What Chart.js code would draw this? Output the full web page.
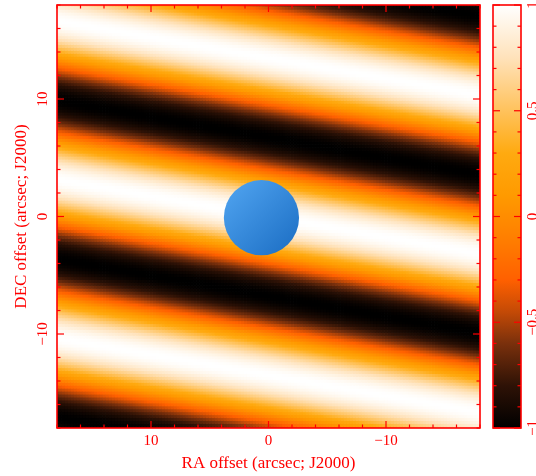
<!DOCTYPE html>
<html>
<head>
<meta charset="utf-8">
<script src="https://cdn.jsdelivr.net/npm/chart.js@4.4.1/dist/chart.umd.min.js"></script>
<style>
  html, body { margin: 0; padding: 0; background: #ffffff; }
  #wrap { position: relative; width: 536px; height: 476px; }
  #fringe-chart { position: absolute; left: 0; top: 0; }
  #cbar-chart { position: absolute; left: 480px; top: 0; }
</style>
</head>
<body>
<div id="wrap">
  <canvas id="fringe-chart" width="536" height="476"></canvas>
  <canvas id="cbar-chart" width="56" height="476"></canvas>
</div>
<script>
// axis ranges and tick labels (arcsec)
const raRange = [-18, 18];
const decRange = [-18, 18];
const raTicks = [10, 0, -10];
const decTicks = [10, 0, -10];
const cbarTicks = [1, 0.5, 0, -0.5, -1];

// fringe: white crest through the centre,
// crests drop ~0.175" in dec per arcsec towards negative RA, repeat every ~13.5" in dec
const fringePeriod = [13.5];
const fringeSlope = [0.175];
const cellStep = [0.25];

// blue disc (source marker)
const sourceRa = [0.6];
const sourceDec = [-0.1];
const sourceRadius = [3.2];

// colour table, value -> rgb
const cmapValues = [-1, -0.8, -0.6, -0.45, -0.3, -0.1, 0.1, 0.3, 0.5, 0.75, 1];
const cmapColors = [
  [0, 0, 0], [46, 18, 6], [122, 48, 12], [196, 74, 6], [255, 96, 0], [255, 127, 0],
  [255, 154, 0], [255, 170, 16], [255, 194, 92], [255, 226, 186], [255, 255, 255],
];

const RED = "#ff0000";
const FONT = "'Liberation Serif', 'DejaVu Serif', serif";

function cmap(v) {
  const t = Math.max(-1, Math.min(1, v));
  for (let i = 1; i < cmapValues.length; i++) {
    if (t <= cmapValues[i]) {
      const f = (t - cmapValues[i - 1]) / (cmapValues[i] - cmapValues[i - 1]);
      const a = cmapColors[i - 1];
      const b = cmapColors[i];
      const c = a.map((ch, k) => Math.round(ch + (b[k] - ch) * f));
      return `rgb(${c[0]},${c[1]},${c[2]})`;
    }
  }
  return "rgb(255,255,255)";
}

function minusLabel(value) {
  return value < 0 ? "\u2212" + Math.abs(value) : String(value);
}

// cells of the fringe image
const cells = [];
const cellColors = [];
const nCells = Math.round((raRange[1] - raRange[0]) / cellStep[0]);
for (let i = 0; i <= nCells; i++) {
  for (let j = 0; j <= nCells; j++) {
    const ra = raRange[0] + i * cellStep[0];
    const dec = decRange[0] + j * cellStep[0];
    const phase = (dec - fringeSlope[0] * ra) / fringePeriod[0];
    cells.push({ x: ra, y: dec });
    cellColors.push(cmap(Math.cos(2 * Math.PI * phase)));
  }
}

function drawTicks(ctx, scale, values, area, side, len) {
  values.forEach((v) => {
    const p = scale.getPixelForValue(v.value);
    const l = v.major ? len * 2 : len;
    ctx.beginPath();
    if (side === "bottom") { ctx.moveTo(p, area.bottom); ctx.lineTo(p, area.bottom - l); }
    if (side === "top") { ctx.moveTo(p, area.top); ctx.lineTo(p, area.top + l); }
    if (side === "left") { ctx.moveTo(area.left, p); ctx.lineTo(area.left + l, p); }
    if (side === "right") { ctx.moveTo(area.right, p); ctx.lineTo(area.right - l, p); }
    ctx.stroke();
  });
}

function tickList(from, to, step, majorEvery) {
  const list = [];
  const n = Math.round((to - from) / step);
  for (let i = 0; i <= n; i++) {
    const value = Math.round((from + i * step) * 1000) / 1000;
    const ratio = value / majorEvery;
    list.push({ value, major: Math.abs(ratio - Math.round(ratio)) < 1e-6 });
  }
  return list;
}

function noPad(scale) {
  scale.paddingTop = 0;
  scale.paddingBottom = 0;
  scale.paddingLeft = 0;
  scale.paddingRight = 0;
}

const framePlugin = {
  id: "frame",
  afterDatasetsDraw(chart) {
    const { ctx, chartArea: area, scales } = chart;
    ctx.save();
    ctx.strokeStyle = RED;
    ctx.lineWidth = 1.2;
    const raMinor = tickList(-18, 18, 2, 10);
    const decMinor = tickList(-18, 18, 2, 10);
    drawTicks(ctx, scales.x, raMinor, area, "bottom", 3.5);
    drawTicks(ctx, scales.x, raMinor, area, "top", 3.5);
    drawTicks(ctx, scales.y, decMinor, area, "left", 3.5);
    drawTicks(ctx, scales.y, decMinor, area, "right", 3.5);
    ctx.lineWidth = 1.6;
    ctx.strokeRect(area.left, area.top, area.right - area.left, area.bottom - area.top);
    ctx.restore();
  },
};

const cbarPlugin = {
  id: "cbar",
  beforeDatasetsDraw(chart) {
    const { ctx, chartArea: area, scales } = chart;
    const y0 = scales.y.getPixelForValue(-1);
    const y1 = scales.y.getPixelForValue(1);
    const grad = ctx.createLinearGradient(0, y0, 0, y1);
    cmapValues.forEach((v) => grad.addColorStop((v + 1) / 2, cmap(v)));
    ctx.save();
    ctx.fillStyle = grad;
    ctx.fillRect(area.left, y1, area.right - area.left, y0 - y1);
    ctx.restore();
  },
  afterDatasetsDraw(chart) {
    const { ctx, chartArea: area, scales } = chart;
    ctx.save();
    ctx.strokeStyle = RED;
    ctx.lineWidth = 1.2;
    const minor = tickList(-1, 1, 0.1, 0.5);
    drawTicks(ctx, scales.y, minor, area, "left", 3.5);
    drawTicks(ctx, scales.y, minor, area, "right", 3.5);
    ctx.lineWidth = 1.6;
    ctx.strokeRect(area.left, area.top, area.right - area.left, area.bottom - area.top);
    ctx.restore();
  },
};

function sourceRadiusPx(context) {
  const s = context.chart.scales.y;
  if (!s) return 38;
  return Math.abs(s.getPixelForValue(0) - s.getPixelForValue(sourceRadius[0]));
}

function sourceFill(context) {
  const chart = context.chart;
  if (!chart.chartArea) return "#3585dc";
  const x = chart.scales.x.getPixelForValue(sourceRa[0]);
  const y = chart.scales.y.getPixelForValue(sourceDec[0]);
  const r = sourceRadiusPx(context);
  const grad = chart.ctx.createLinearGradient(x - r, y - r, x + r, y + r);
  grad.addColorStop(0, "#52a6f2");
  grad.addColorStop(1, "#1a6cc2");
  return grad;
}

new Chart(document.querySelector("#fringe-chart"), {
  type: "scatter",
  data: {
    datasets: [
      {
        label: "source",
        data: sourceRa.map((ra, i) => ({ x: ra, y: sourceDec[i] })),
        pointStyle: "circle",
        pointRadius: sourceRadiusPx,
        pointBackgroundColor: sourceFill,
        pointBorderWidth: 0,
        order: 0,
      },
      {
        label: "fringe",
        data: cells,
        pointStyle: "rect",
        pointRadius: 2.6,
        pointBackgroundColor: cellColors,
        pointBorderWidth: 0,
        order: 1,
      },
    ],
  },
  options: {
    responsive: false,
    animation: false,
    events: [],
    layout: { padding: { left: 0, top: 5, right: 56, bottom: 0 } },
    plugins: { legend: { display: false }, tooltip: { enabled: false } },
    scales: {
      x: {
        type: "linear",
        reverse: true,
        min: raRange[0],
        max: raRange[1],
        grid: { display: false, drawTicks: false },
        border: { display: false },
        afterBuildTicks: (scale) => { scale.ticks = raTicks.map((value) => ({ value })); },
        afterFit: (scale) => { scale.height = 48; noPad(scale); },
        ticks: {
          color: RED,
          font: { family: FONT, size: 15 },
          padding: 4,
          maxRotation: 0,
          callback: minusLabel,
        },
        title: {
          display: true,
          text: "RA offset (arcsec; J2000)",
          color: RED,
          font: { family: FONT, size: 17 },
          padding: { top: 0, bottom: 2 },
        },
      },
      y: {
        type: "linear",
        min: decRange[0],
        max: decRange[1],
        grid: { display: false, drawTicks: false },
        border: { display: false },
        afterBuildTicks: (scale) => { scale.ticks = decTicks.map((value) => ({ value })); },
        afterFit: (scale) => { scale.width = 57; noPad(scale); },
        ticks: {
          color: RED,
          font: { family: FONT, size: 15 },
          padding: 2,
          minRotation: 90,
          maxRotation: 90,
          crossAlign: "center",
          callback: minusLabel,
        },
        title: {
          display: true,
          text: "DEC offset (arcsec; J2000)",
          color: RED,
          font: { family: FONT, size: 17 },
          padding: { top: 11, bottom: 0 },
        },
      },
    },
  },
  plugins: [framePlugin],
});

new Chart(document.querySelector("#cbar-chart"), {
  type: "scatter",
  data: { datasets: [{ data: [] }] },
  options: {
    responsive: false,
    animation: false,
    events: [],
    layout: { padding: { left: 13, top: 5, right: 0, bottom: 48 } },
    plugins: { legend: { display: false }, tooltip: { enabled: false } },
    scales: {
      x: { display: false, min: 0, max: 1 },
      y: {
        type: "linear",
        position: "right",
        min: -1,
        max: 1,
        grid: { display: false, drawTicks: false },
        border: { display: false },
        afterBuildTicks: (scale) => { scale.ticks = cbarTicks.map((value) => ({ value })); },
        afterFit: (scale) => { scale.width = 15; noPad(scale); },
        ticks: {
          color: RED,
          font: { family: FONT, size: 15 },
          padding: -2,
          minRotation: 90,
          maxRotation: 90,
          crossAlign: "center",
          callback: minusLabel,
        },
      },
    },
  },
  plugins: [cbarPlugin],
});
</script>
</body>
</html>
